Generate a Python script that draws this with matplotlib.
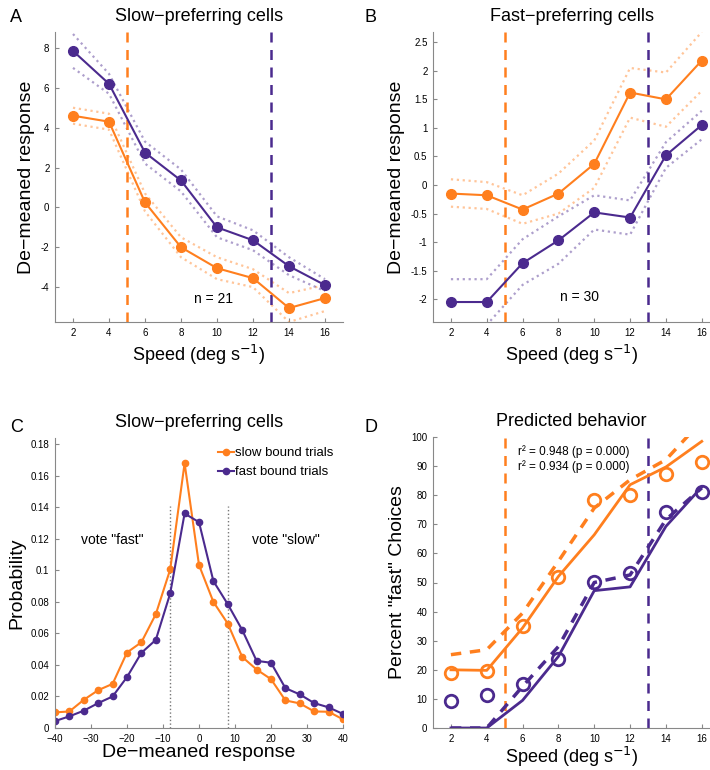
import numpy as np
import matplotlib
matplotlib.use('Agg')
import matplotlib.pyplot as plt
from matplotlib.ticker import FormatStrFormatter

plt.rcParams['font.family'] = ['Liberation Sans', 'DejaVu Sans']

ORANGE = '#FF7F1E'
PURPLE = '#4B2A8E'

speeds = [2, 4, 6, 8, 10, 12, 14, 16]

# panel A: slow-preferring cells
a_slow = [4.6, 4.3, 0.25, -2.0, -3.05, -3.55, -5.05, -4.55]
a_slow_hi = [5.0, 4.7, 0.7, -1.5, -2.5, -3.1, -4.3, -3.9]
a_slow_lo = [4.2, 3.9, -0.2, -2.5, -3.6, -4.0, -5.75, -5.2]
a_fast = [7.85, 6.2, 2.75, 1.35, -1.0, -1.65, -2.95, -3.9]
a_fast_hi = [8.7, 6.7, 3.3, 1.9, -0.45, -1.15, -2.5, -3.6]
a_fast_lo = [7.0, 5.7, 2.2, 0.8, -1.5, -2.15, -3.4, -4.2]

# panel B: fast-preferring cells
b_slow = [-0.15, -0.18, -0.43, -0.15, 0.37, 1.62, 1.5, 2.18]
b_slow_hi = [0.1, 0.05, -0.18, 0.2, 0.78, 2.05, 1.97, 2.68]
b_slow_lo = [-0.38, -0.42, -0.68, -0.5, -0.05, 1.18, 1.02, 1.65]
b_fast = [-2.05, -2.05, -1.37, -0.97, -0.48, -0.57, 0.52, 1.05]
b_fast_hi = [-1.65, -1.65, -0.95, -0.55, -0.18, -0.27, 0.75, 1.3]
b_fast_lo = [-2.45, -2.45, -1.75, -1.38, -0.78, -0.87, 0.3, 0.8]

# panel C: response distributions
resp_bins = list(range(-40, 41, 4))
c_slow = [0.0099, 0.0105, 0.0179, 0.024, 0.028, 0.0479, 0.0544, 0.0722, 0.1006, 0.168, 0.1034,
          0.080, 0.0662, 0.0451, 0.0371, 0.031, 0.0175, 0.0156, 0.0105, 0.0103, 0.0055]
c_fast = [0.0044, 0.0074, 0.011, 0.0158, 0.020, 0.0323, 0.0477, 0.0559, 0.0854, 0.1361, 0.1306,
          0.0932, 0.0785, 0.0622, 0.0426, 0.0414, 0.0253, 0.0213, 0.0158, 0.0131, 0.0089]

# panel D: predicted behaviour
d_slow_obs = [18.9, 19.5, 34.9, 51.8, 78.2, 80.1, 87.3, 91.3]
d_slow_pred = [20.0, 19.8, 34.4, 52.1, 66.4, 83.6, 89.7, 98.5]
d_slow_pred2 = [25.2, 26.9, 39.5, 57.3, 75.6, 85.3, 92.2, 105.5]
d_fast_obs = [9.2, 11.3, 15.2, 23.7, 50.2, 53.3, 74.1, 81.2]
d_fast_pred = [0, 0, 9.5, 24.6, 47.2, 48.5, 69.3, 82.8]
d_fast_pred2 = [0, 0, 14.3, 28.0, 50.0, 52.6, 71.6, 82.5]

W, H = 710, 770
fig = plt.figure(figsize=(W / 100, H / 100), dpi=100)


def make_ax(left, top, right, bottom):
    ax = fig.add_axes([left / W, 1 - bottom / H, (right - left) / W, (bottom - top) / H])
    for s in ['top', 'right']:
        ax.spines[s].set_visible(False)
    for s in ['left', 'bottom']:
        ax.spines[s].set_color('#888888')
        ax.spines[s].set_linewidth(0.8)
    ax.tick_params(direction='in', labelsize=7, length=3, color='#888888', pad=4)
    return ax


def response_panel(ax, slow, slow_hi, slow_lo, fast, fast_hi, fast_lo):
    for arr in (slow_hi, slow_lo):
        ax.plot(speeds, arr, ':', color=ORANGE, alpha=0.45, lw=1.6)
    for arr in (fast_hi, fast_lo):
        ax.plot(speeds, arr, ':', color=PURPLE, alpha=0.45, lw=1.6)
    ax.plot(speeds, slow, '-o', color=ORANGE, lw=1.5, ms=7, clip_on=False, zorder=3)
    ax.plot(speeds, fast, '-o', color=PURPLE, lw=1.5, ms=7, clip_on=False, zorder=3)
    ax.axvline(5, color=ORANGE, ls='--', lw=1.8, dashes=(4, 3))
    ax.axvline(13, color=PURPLE, ls='--', lw=1.8, dashes=(4, 3))
    ax.set_xticks(speeds)
    ax.set_ylabel('De\u2212meaned response', fontsize=14)
    ax.set_xlabel('Speed (deg s$^{-1}$)', fontsize=13, labelpad=4)
    ax.yaxis.set_major_formatter(FormatStrFormatter('%g'))


# A
axA = make_ax(55, 32, 343, 322)
response_panel(axA, a_slow, a_slow_hi, a_slow_lo, a_fast, a_fast_hi, a_fast_lo)
axA.set_xlim(1, 17)
axA.set_ylim(-5.75, 8.8)
axA.set_yticks([-4, -2, 0, 2, 4, 6, 8])
axA.text(9.8, -4.6, 'n = 21', fontsize=10, ha='center', va='center')
axA.set_title('Slow\u2212preferring cells', fontsize=13, pad=8)

# B
axB = make_ax(433, 32, 710, 322)
response_panel(axB, b_slow, b_slow_hi, b_slow_lo, b_fast, b_fast_hi, b_fast_lo)
axB.set_xlim(1, 16.46)
axB.set_ylim(-2.4, 2.68)
axB.set_yticks(np.arange(-2, 2.51, 0.5))
axB.text(9.2, -1.97, 'n = 30', fontsize=10, ha='center', va='center')
axB.set_title('Fast\u2212preferring cells', fontsize=13, pad=8)

# C
axC = make_ax(55, 438, 343, 728)
axC.plot([-8, -8], [0, 0.141], ':', color='#777777', lw=1)
axC.plot([8, 8], [0, 0.141], ':', color='#777777', lw=1)
axC.plot(resp_bins, c_slow, '-o', color=ORANGE, lw=1.5, ms=4.5, label='slow bound trials')
axC.plot(resp_bins, c_fast, '-o', color=PURPLE, lw=1.5, ms=4.5, label='fast bound trials')
axC.set_xlim(-40, 40)
axC.set_ylim(0, 0.184)
axC.set_xticks(range(-40, 41, 10))
axC.set_yticks(np.arange(0, 0.181, 0.02))
axC.yaxis.set_major_formatter(FormatStrFormatter('%g'))
axC.text(-24, 0.119, 'vote "fast"', fontsize=10, ha='center', va='center')
axC.text(24, 0.119, 'vote "slow"', fontsize=10, ha='center', va='center')
axC.legend(loc='upper right', fontsize=9.5, frameon=False, handlelength=1.2,
           handletextpad=0.1, borderaxespad=0.3, labelspacing=0.5)
axC.set_ylabel('Probability', fontsize=14)
axC.set_xlabel('De\u2212meaned response', fontsize=14, labelpad=0)
axC.set_title('Slow\u2212preferring cells', fontsize=13, pad=8)

# D
axD = make_ax(433, 437, 710, 728)
axD.axvline(5, color=ORANGE, ls='--', lw=1.8, dashes=(4, 3))
axD.axvline(13, color=PURPLE, ls='--', lw=1.8, dashes=(4, 3))
axD.plot(speeds, d_slow_pred, '-', color=ORANGE, lw=2)
axD.plot(speeds, d_slow_pred2, '--', color=ORANGE, lw=2.5, dashes=(3, 2.5))
axD.plot(speeds, d_fast_pred, '-', color=PURPLE, lw=2)
axD.plot(speeds, d_fast_pred2, '--', color=PURPLE, lw=2.5, dashes=(3, 2.5))
axD.plot(speeds, d_slow_obs, 'o', mfc='none', mec=ORANGE, mew=2, ms=9, clip_on=False)
axD.plot(speeds, d_fast_obs, 'o', mfc='none', mec=PURPLE, mew=2, ms=9, clip_on=False)
axD.set_xlim(1, 16.46)
axD.set_ylim(0, 100)
axD.set_xticks(speeds)
axD.set_yticks(range(0, 101, 10))
axD.text(5.75, 95, 'r\u00b2 = 0.948 (p = 0.000)', fontsize=8.5, va='center')
axD.text(5.75, 90, 'r\u00b2 = 0.934 (p = 0.000)', fontsize=8.5, va='center')
axD.set_ylabel('Percent "fast" Choices', fontsize=14)
axD.set_xlabel('Speed (deg s$^{-1}$)', fontsize=13, labelpad=1)
axD.set_title('Predicted behavior', fontsize=13, pad=8)

for lbl, x, y in [('A', 10, 18), ('B', 365, 18), ('C', 10, 427), ('D', 365, 427)]:
    fig.text(x / W, 1 - y / H, lbl, fontsize=13, va='center', ha='left')

fig.savefig('out.png', dpi=100)
